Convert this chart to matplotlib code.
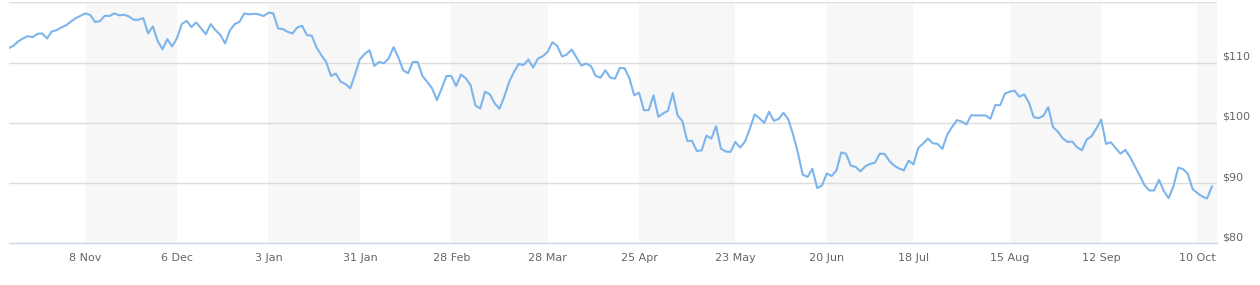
import numpy as np
import pandas as pd
import matplotlib
matplotlib.use("Agg")
import matplotlib.pyplot as plt
import matplotlib.transforms as mtransforms

# ---- data ----
start_date = "2021-10-15"
end_date = "2022-10-13"
holidays = ["2021-11-25", "2021-12-24", "2022-01-17", "2022-02-21", "2022-04-15",
            "2022-05-30", "2022-06-20", "2022-07-04", "2022-09-05"]

prices = [
    112.38, 112.77, 113.50, 114.00, 114.38, 114.20, 114.77, 114.83, 114.00, 115.17,
    115.38, 115.83, 116.20, 116.83, 117.38, 117.77, 118.17, 117.88, 116.72, 116.88,
    117.77, 117.72, 118.17, 117.83, 117.93, 117.67, 117.10, 117.10, 117.38, 114.83,
    116.00, 113.55, 112.20, 113.88, 112.67, 114.05, 116.38, 116.93, 115.88, 116.67,
    115.67, 114.72, 116.38, 115.38, 114.60, 113.17, 115.38, 116.38, 116.77, 118.17,
    118.00, 118.10, 118.00, 117.72, 118.27, 118.17, 115.67, 115.55, 115.10, 114.83,
    115.83, 116.10, 114.55, 114.45, 112.50, 111.20, 110.10, 107.77, 108.17, 106.83,
    106.43, 105.72, 108.05, 110.55, 111.43, 112.05, 109.43, 110.10, 109.88, 110.72,
    112.55, 110.83, 108.72, 108.22, 110.10, 110.10, 107.77, 106.77, 105.72, 103.77,
    105.72, 107.77, 107.77, 106.10, 108.00, 107.40, 106.22, 102.88, 102.38, 105.17,
    104.72, 103.22, 102.33, 104.33, 106.77, 108.43, 109.77, 109.60, 110.50, 109.17,
    110.67, 111.05, 111.77, 113.38, 112.77, 111.00, 111.33, 112.17, 110.83, 109.50,
    109.83, 109.43, 107.77, 107.50, 108.72, 107.50, 107.33, 109.12, 109.05, 107.38,
    104.55, 105.00, 102.10, 102.10, 104.55, 101.00, 101.55, 102.00, 104.93, 101.22,
    100.27, 97.00, 97.00, 95.33, 95.43, 97.88, 97.38, 99.43, 95.72, 95.22,
    95.17, 96.83, 95.88, 96.88, 99.00, 101.38, 100.77, 100.00, 101.83, 100.33,
    100.64, 101.67, 100.55, 98.05, 95.00, 91.38, 91.00, 92.38, 89.17, 89.60,
    91.60, 91.17, 92.10, 95.10, 94.83, 92.88, 92.67, 91.93, 92.77, 93.17,
    93.38, 94.88, 94.83, 93.67, 92.88, 92.43, 92.10, 93.72, 93.10, 95.83,
    96.55, 97.38, 96.61, 96.50, 95.67, 98.00, 99.27, 100.43, 100.22, 99.72,
    101.27, 101.22, 101.22, 101.22, 100.67, 102.93, 102.93, 104.83, 105.17, 105.33,
    104.33, 104.72, 103.33, 100.93, 100.77, 101.17, 102.60, 99.27, 98.55, 97.43,
    96.83, 96.88, 95.93, 95.43, 97.22, 97.77, 99.05, 100.55, 96.50, 96.77,
    95.83, 94.88, 95.50, 94.33, 92.77, 91.27, 89.67, 88.77, 88.77, 90.55,
    88.72, 87.50, 89.43, 92.55, 92.33, 91.55, 89.00, 88.33, 87.77, 87.43,
    89.43,
]

tick_dates = ["2021-11-08", "2021-12-06", "2022-01-03", "2022-01-31", "2022-02-28",
              "2022-03-28", "2022-04-25", "2022-05-23", "2022-06-20", "2022-07-18",
              "2022-08-15", "2022-09-12", "2022-10-10"]
tick_labels = ["8 Nov", "6 Dec", "3 Jan", "31 Jan", "28 Feb", "28 Mar", "25 Apr",
               "23 May", "20 Jun", "18 Jul", "15 Aug", "12 Sep", "10 Oct"]
y_ticks = [80, 90, 100, 110, 120]
y_labels = ["$80", "$90", "$100", "$110", ""]

# ---- ordinal (trading-day) axis ----
dates = pd.bdate_range(start_date, end_date)
dates = dates[~dates.isin(pd.to_datetime(holidays))]
n = len(prices)
dates = dates[:n]
x = np.arange(n)
tick_pos = np.searchsorted(dates.values, pd.to_datetime(tick_dates).values).astype(float)

W, H = 1260, 285
fig = plt.figure(figsize=(W / 100, H / 100), dpi=100)
left, right, bottom, top = 8.5, 1216.7, 243.3, 2.3
ax = fig.add_axes([left / W, (H - bottom) / H, (right - left) / W, (bottom - top) / H])

ax.set_xlim(0, n)
ax.set_ylim(80, 120)

# alternate bands
bounds = list(tick_pos) + [n]
for i in range(0, len(bounds) - 1, 2):
    ax.axvspan(bounds[i], bounds[i + 1], color="#f7f7f7", lw=0, zorder=0)

for v in y_ticks[1:]:
    ax.axhline(v, color="#dcdcdc", lw=1, zorder=1)

ax.plot(x, prices, color="#7cb5ec", lw=1.5, zorder=3, solid_joinstyle="round")

for s in ["top", "right", "left"]:
    ax.spines[s].set_visible(False)
ax.spines["bottom"].set_color("#ccd6eb")
ax.spines["bottom"].set_linewidth(1)

ax.set_yticks([])
ax.set_xticks(tick_pos)
ax.set_xticklabels(tick_labels, fontsize=8, color="#666666", fontfamily="DejaVu Sans")
ax.tick_params(axis="x", which="major", length=0, pad=7)
ax.set_xticks(tick_pos, minor=True)
ax.tick_params(axis="x", which="minor", length=7, width=1, color="#ccd6eb", direction="out")

trans = mtransforms.blended_transform_factory(ax.transAxes, ax.transData)
trans = mtransforms.offset_copy(trans, fig=fig, x=5, y=6, units="dots")
for v, lab in zip(y_ticks, y_labels):
    if lab:
        ax.text(1.0, v, lab, transform=trans, ha="left", va="center",
                fontsize=8, color="#666666", fontfamily="DejaVu Sans")

fig.savefig("out.png", dpi=100)
